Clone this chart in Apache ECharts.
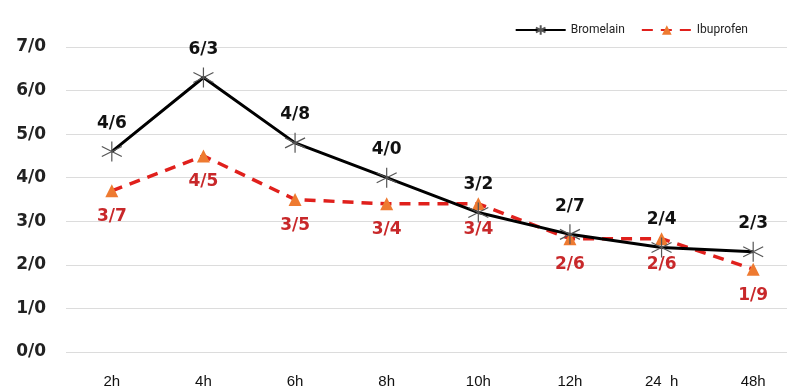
<!DOCTYPE html>
<html><head><meta charset="utf-8">
<script src="https://cdn.jsdelivr.net/npm/echarts@6/dist/echarts.min.js"></script>
<style>html,body{margin:0;padding:0;background:#fff}#c{width:787px;height:390px}</style>
</head><body><div id="c"></div>
<script>
const categories = ['2h','4h','6h','8h','10h','12h','24  h','48h'];
const bromelain = [4.6, 6.3, 4.8, 4.0, 3.2, 2.7, 2.4, 2.3];
const ibuprofen = [3.7, 4.5, 3.5, 3.4, 3.4, 2.6, 2.6, 1.9];
const seriesNames = ['Bromelain', 'Ibuprofen'];

const fmt = v => v.toFixed(1).replace('.', '/');
const asterisk = 'path://M0,-10L0,10M-8.66,-5L8.66,5M-8.66,5L8.66,-5';

const chart = echarts.init(document.getElementById('c'));
chart.setOption({
  animation: false,
  backgroundColor: '#fff',
  legend: {
    top: 19, right: 34, itemWidth: 50, itemHeight: 12, itemGap: 16,
    textStyle: {fontFamily: 'Roboto, Liberation Sans, sans-serif', fontSize: 12, color: '#222'},
    data: seriesNames
  },
  grid: {left: 66, top: 47, right: -12, height: 305, containLabel: false, outerBoundsMode: 'none'},
  xAxis: {
    type: 'category', data: categories, boundaryGap: true,
    axisLine: {show: false}, axisTick: {show: false},
    axisLabel: {margin: 22, fontFamily: 'Liberation Sans, Arial, sans-serif', fontSize: 15, color: '#111'}
  },
  yAxis: {
    type: 'value', min: 0, max: 7, interval: 1,
    axisLine: {show: false}, axisTick: {show: false},
    splitLine: {lineStyle: {color: '#dcdcdc', width: 1}},
    axisLabel: {margin: 20, formatter: v => fmt(v), fontFamily: 'DejaVu Sans, sans-serif', fontWeight: 'bold', fontSize: 17, color: '#222'}
  },
  series: [
    {
      name: seriesNames[0], type: 'line', data: bromelain,
      symbol: asterisk, symbolSize: 20, showAllSymbol: true,
      lineStyle: {color: '#000', width: 3},
      itemStyle: {color: 'rgba(0,0,0,0)', borderColor: '#555', borderWidth: 1.2},
      label: {show: true, position: 'top', distance: 9, formatter: p => fmt(p.value),
        fontFamily: 'DejaVu Sans, sans-serif', fontWeight: 'bold', fontSize: 17, color: '#111'},
      z: 3
    },
    {
      name: seriesNames[1], type: 'line', data: ibuprofen,
      symbol: 'triangle', symbolSize: 13, showAllSymbol: true,
      lineStyle: {color: '#e0201c', width: 3.5, type: [11, 8]},
      itemStyle: {color: '#ee7a30', borderWidth: 0},
      label: {show: true, position: 'bottom', distance: 11, formatter: p => fmt(p.value),
        fontFamily: 'DejaVu Sans, sans-serif', fontWeight: 'bold', fontSize: 17, color: '#c8282a'},
      z: 2
    }
  ]
});
</script></body></html>
